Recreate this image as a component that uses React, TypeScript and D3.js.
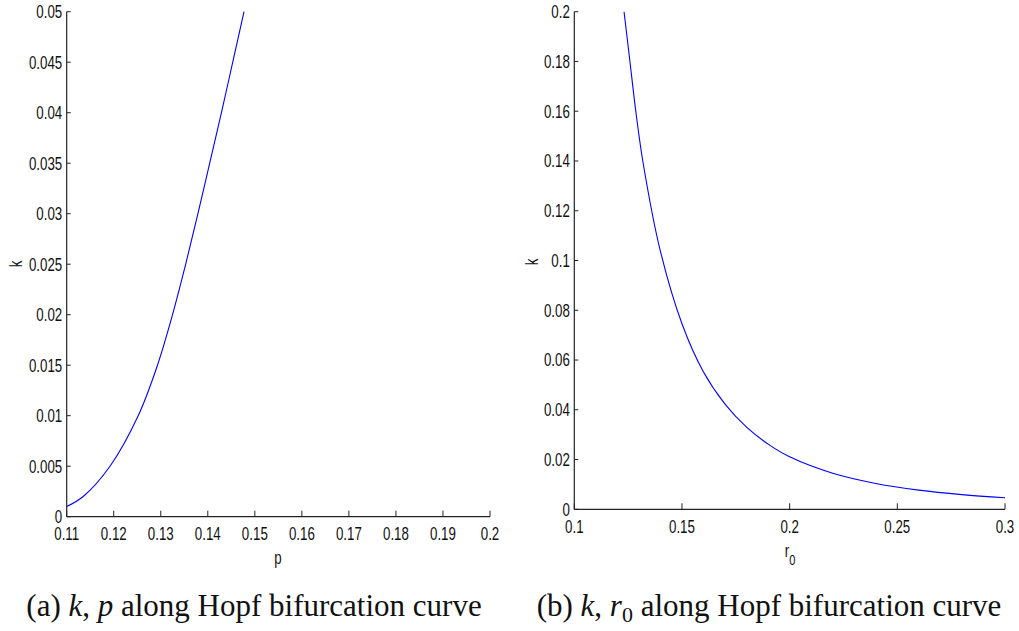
import React from "react";
import * as d3 from "d3";

// Panel (a): k vs p along Hopf bifurcation curve
const pValues = [0.11, 0.1135, 0.1192, 0.1252, 0.1293, 0.1325, 0.1353, 0.1379, 0.1404, 0.1429, 0.1453, 0.1477];
const kValuesA = [0.001, 0.002, 0.005, 0.01, 0.015, 0.02, 0.025, 0.03, 0.035, 0.04, 0.045, 0.05];
const xTicksA = [0.11, 0.12, 0.13, 0.14, 0.15, 0.16, 0.17, 0.18, 0.19, 0.2];
const yTicksA = [0, 0.005, 0.01, 0.015, 0.02, 0.025, 0.03, 0.035, 0.04, 0.045, 0.05];

// Panel (b): k vs r0 along Hopf bifurcation curve
const r0Values = [0.1231, 0.1257, 0.1287, 0.132, 0.1398, 0.15, 0.16, 0.17, 0.18, 0.19, 0.2, 0.22, 0.24, 0.26, 0.28, 0.3];
const kValuesB = [0.2, 0.181, 0.159, 0.139, 0.1044, 0.0746, 0.0552, 0.0423, 0.033, 0.0262, 0.0211, 0.0145, 0.0104, 0.0077, 0.0059, 0.00466];
const xTicksB = [0.1, 0.15, 0.2, 0.25, 0.3];
const yTicksB = [0, 0.02, 0.04, 0.06, 0.08, 0.1, 0.12, 0.14, 0.16, 0.18, 0.2];

const tickFont = "'Liberation Sans', Arial, Helvetica, sans-serif";
const serifFont = "'Liberation Serif', 'Times New Roman', serif";
const fmt = (v: number) => String(+v.toFixed(4));
const SX = 0.74;

function NText(props: { x: number; y: number; anchor?: string; rotate?: number; size?: number; children: React.ReactNode }) {
  const { x, y, anchor = "middle", rotate = 0, size = 18, children } = props;
  return (
    <text
      transform={`translate(${x},${y})${rotate ? ` rotate(${rotate})` : ""} scale(${SX},1)`}
      textAnchor={anchor}
      dy="0.35em"
      fontFamily={tickFont}
      fontSize={size}
      fill="#111"
    >
      {children}
    </text>
  );
}

type PanelProps = {
  left: number; right: number; top: number; bottom: number;
  xDomain: [number, number]; yDomain: [number, number];
  xs: number[]; ys: number[]; xTicks: number[]; yTicks: number[];
  xLabel: React.ReactNode; xLabelPos: [number, number];
  yLabelPos: [number, number];
};

function Panel(p: PanelProps) {
  const x = d3.scaleLinear().domain(p.xDomain).range([p.left, p.right]);
  const y = d3.scaleLinear().domain(p.yDomain).range([p.bottom, p.top]);
  const pts = p.xs.map((v, i) => [v, p.ys[i]] as [number, number]);
  const line = d3.line<[number, number]>().x(d => x(d[0])).y(d => y(d[1])).curve(d3.curveCatmullRom.alpha(0.5));
  return (
    <g>
      <path d={line(pts) || ""} fill="none" stroke="#0000ff" strokeWidth={1.1} />
      <line x1={p.left} x2={p.left} y1={p.top} y2={p.bottom} stroke="#222" strokeWidth={1.2} />
      <line x1={p.left} x2={p.right} y1={p.bottom} y2={p.bottom} stroke="#222" strokeWidth={1.2} />
      {p.yTicks.map(t => (
        <g key={"y" + t}>
          <line x1={p.left} x2={p.left + 4} y1={y(t)} y2={y(t)} stroke="#222" strokeWidth={1} />
          <NText x={p.left - 4.5} y={y(t)} anchor="end">{fmt(t)}</NText>
        </g>
      ))}
      {p.xTicks.map(t => (
        <g key={"x" + t}>
          <line x1={x(t)} x2={x(t)} y1={p.bottom} y2={p.bottom - 6} stroke="#222" strokeWidth={1} />
          <NText x={x(t)} y={p.bottom + 17}>{fmt(t)}</NText>
        </g>
      ))}
      <NText x={p.xLabelPos[0]} y={p.xLabelPos[1]}>{p.xLabel}</NText>
      <NText x={p.yLabelPos[0]} y={p.yLabelPos[1]} rotate={-90}>k</NText>
    </g>
  );
}

export default function App() {
  return (
    <svg width={1019} height={631} style={{ position: "absolute", left: 0, top: 0, background: "#fff" }}>
      <rect width={1019} height={631} fill="#fff" />
      <Panel left={66.7} right={490} top={11.7} bottom={516.7}
        xDomain={[0.11, 0.2]} yDomain={[0, 0.05]}
        xs={pValues} ys={kValuesA} xTicks={xTicksA} yTicks={yTicksA}
        xLabel="p" xLabelPos={[278, 558]} yLabelPos={[16, 264]} />
      <Panel left={574.3} right={1005} top={11.7} bottom={509.3}
        xDomain={[0.1, 0.3]} yDomain={[0, 0.2]}
        xs={r0Values} ys={kValuesB} xTicks={xTicksB} yTicks={yTicksB}
        xLabel={<><tspan>r</tspan><tspan dy="8" fontSize={15}>0</tspan></>} xLabelPos={[790, 551]} yLabelPos={[532, 262]} />
      <text x={254} y={616} textAnchor="middle" fontFamily={serifFont} fontSize={31} fill="#111">
        (a) <tspan fontStyle="italic">k</tspan>, <tspan fontStyle="italic">p</tspan> along Hopf bifurcation curve
      </text>
      <text x={769} y={616} textAnchor="middle" fontFamily={serifFont} fontSize={31} fill="#111">
        (b) <tspan fontStyle="italic">k</tspan>, <tspan fontStyle="italic">r</tspan><tspan dy="6" fontSize={22}>0</tspan><tspan dy="-6"> along Hopf bifurcation curve</tspan>
      </text>
    </svg>
  );
}
